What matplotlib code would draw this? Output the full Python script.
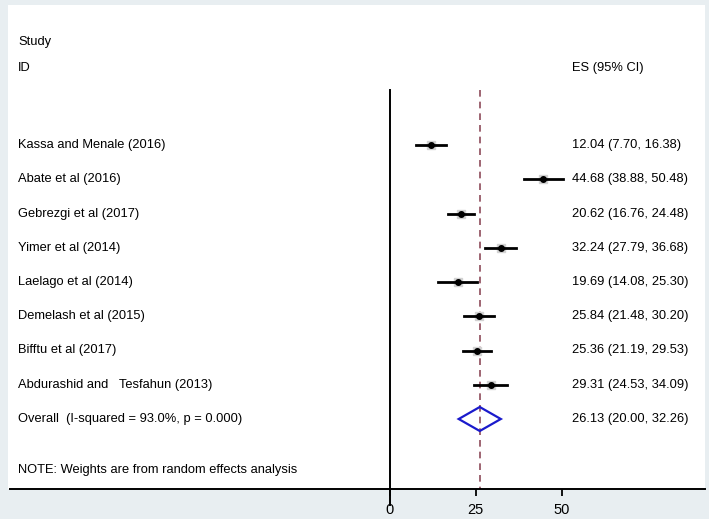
import matplotlib.pyplot as plt
from matplotlib.patches import Polygon

# --- dados do forest plot ---
studies = ["Kassa and Menale (2016)", "Abate et al (2016)", "Gebrezgi et al (2017)",
           "Yimer et al (2014)", "Laelago et al (2014)", "Demelash et al (2015)",
           "Bifftu et al (2017)", "Abdurashid and   Tesfahun (2013)"]
es = [12.04, 44.68, 20.62, 32.24, 19.69, 25.84, 25.36, 29.31]
lo = [7.70, 38.88, 16.76, 27.79, 14.08, 21.48, 21.19, 24.53]
hi = [16.38, 50.48, 24.48, 36.68, 25.30, 30.20, 29.53, 34.09]
overall = 26.13
overall_lo = 20.00
overall_hi = 32.26
overall_label = "Overall  (I-squared = 93.0%, p = 0.000)"
note = "NOTE: Weights are from random effects analysis"
xticks = [0, 25, 50]

W, H = 709, 519
BG = "#e8eef1"
FONT = "Liberation Sans"

fig = plt.figure(figsize=(W / 100, H / 100), dpi=100)
fig.patch.set_facecolor(BG)

# eixo sobre a zona branca (pixels 8..705 x 5..489)
ax = fig.add_axes([8 / W, (H - 489) / H, (705 - 8) / W, (489 - 5) / H])
ax.set_facecolor("white")
px = 3.435  # pixels por unidade
ax.set_xlim((8 - 390) / px, (705 - 390) / px)
row_px = 34.25
ax.set_ylim(8 + (489 - 419) / row_px, 8 - (419 - 5) / row_px)

for s in ["top", "right", "left"]:
    ax.spines[s].set_visible(False)
ax.spines["bottom"].set_linewidth(1.4)
ax.spines["bottom"].set_bounds((10 - 390) / px, (705 - 390) / px)
ax.set_yticks([])
ax.set_xticks(xticks)
ax.tick_params(axis="x", length=5, width=1.3, labelsize=10.5, pad=5)
for t in ax.get_xticklabels():
    t.set_fontfamily(FONT)

x_text = (18 - 390) / px
x_es = (572 - 390) / px
fs = 9.3

ax.text(x_text, -3.0, "Study", fontsize=fs, family=FONT, va="center")
ax.text(x_text, -2.25, "ID", fontsize=fs, family=FONT, va="center")
ax.text(x_es, -2.25, "ES (95% CI)", fontsize=fs, family=FONT, va="center")

# linha do zero e linha do efeito global
ax.plot([0, 0], [-1.6, 10.5], color="black", lw=1.4, clip_on=False)
ax.plot([overall, overall], [-1.6, 10.5], color="#8e4a5a", lw=1.2,
        linestyle=(0, (4, 3)), zorder=1)

for i, name in enumerate(studies):
    ax.plot([lo[i], hi[i]], [i, i], color="black", lw=2.0, zorder=3)
    ax.plot(es[i], i, marker="s", color="#d2d2d2", markersize=6, zorder=2)
    ax.plot(es[i], i, marker="o", color="black", markersize=4, zorder=4)
    ax.text(x_text, i, name, fontsize=fs, family=FONT, va="center")
    ax.text(x_es, i, f"{es[i]:.2f} ({lo[i]:.2f}, {hi[i]:.2f})",
            fontsize=fs, family=FONT, va="center")

n = len(studies)
dh = 12 / row_px
diamond = Polygon([[overall_lo, n], [overall, n - dh], [overall_hi, n], [overall, n + dh]],
                  closed=True, fill=False, edgecolor="#1a1acc", lw=1.6, zorder=3)
ax.add_patch(diamond)
ax.text(x_text, n, overall_label, fontsize=fs, family=FONT, va="center")
ax.text(x_es, n, f"{overall:.2f} ({overall_lo:.2f}, {overall_hi:.2f})",
        fontsize=fs, family=FONT, va="center")
ax.text(x_text, 9.5, note, fontsize=fs, family=FONT, va="center")

fig.savefig("out.png", dpi=100, facecolor=BG)
